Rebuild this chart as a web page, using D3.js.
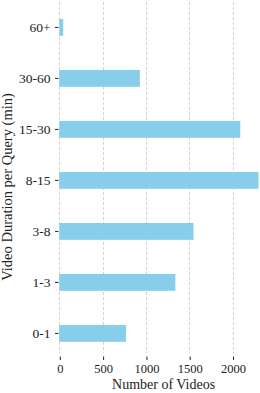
<!DOCTYPE html>
<html>
<head>
<meta charset="utf-8">
<script src="https://cdn.jsdelivr.net/npm/d3@7"></script>
<style>
  body { margin: 0; background: #fff; }
  svg text { font-family: "Liberation Serif", "DejaVu Serif", serif; fill: #222; }
</style>
</head>
<body>
<div class="chart"></div>
<script>
const WIDTH = 260;
const HEIGHT = 393;
const SERIF = "Liberation Serif, DejaVu Serif, serif";

// data, top to bottom as drawn
var categories = ["60+", "30-60", "15-30", "8-15", "3-8", "1-3", "0-1"];
var counts = [45, 930, 2090, 2300, 1550, 1340, 770];
var xTicks = [0, 500, 1000, 1500, 2000];

var translate = function (x, y) {
    return "translate(" + x + "," + y + ")";
};

var drawChart = function () {
    var svg = d3.select(".chart").append("svg")
        .attr("width", WIDTH)
        .attr("height", HEIGHT);

    var xScale = d3.scaleLinear()
        .domain([0, 2300])
        .range([59.3, 258.5]);

    var yScale = d3.scaleBand()
        .domain(categories)
        .range([1.9, 358.9])
        .padding(0);

    var plotTop = 2, plotBottom = 353;

    // dashed vertical grid
    svg.append("g").selectAll("line")
        .data(xTicks)
        .enter()
        .append("line")
        .attr("x1", function (d) { return Math.round(xScale(d)) + 0.5; })
        .attr("x2", function (d) { return Math.round(xScale(d)) + 0.5; })
        .attr("y1", plotTop)
        .attr("y2", plotBottom)
        .attr("stroke", "#c8c8c8")
        .attr("stroke-width", 0.8)
        .attr("stroke-dasharray", "3,2");

    // bars
    var barH = yScale.bandwidth() * 0.33;
    svg.append("g").selectAll("rect")
        .data(counts)
        .enter()
        .append("rect")
        .attr("x", xScale(0))
        .attr("y", function (d, i) {
            return yScale(categories[i]) + yScale.bandwidth() / 2 - barH / 2;
        })
        .attr("width", function (d) { return xScale(d) - xScale(0); })
        .attr("height", barH)
        .attr("fill", "#87ceeb");

    // x axis (offset, no spine)
    var xAxis = d3.axisBottom(xScale)
        .tickValues(xTicks)
        .tickFormat(d3.format("d"))
        .tickSize(3.5)
        .tickPadding(4.5);
    var gx = svg.append("g")
        .attr("transform", translate(0.5, 356.5))
        .call(xAxis)
        .attr("font-family", SERIF)
        .attr("font-size", 12.5);
    gx.select(".domain").remove();
    gx.selectAll("line").attr("stroke", "#222");
    gx.selectAll("text").attr("fill", "#222");

    // y axis
    var yAxis = d3.axisLeft(yScale)
        .tickSize(3.5)
        .tickPadding(4.5);
    var gy = svg.append("g")
        .attr("transform", translate(58.5, 0))
        .call(yAxis)
        .attr("font-family", SERIF)
        .attr("font-size", 13.5);
    gy.select(".domain").remove();
    gy.selectAll("line").attr("stroke", "#222");
    gy.selectAll("text").attr("fill", "#222");

    svg.append("text")
        .attr("x", 163.6)
        .attr("y", 389)
        .attr("text-anchor", "middle")
        .style("font-size", "14px")
        .text("Number of Videos");

    svg.append("text")
        .attr("transform", translate(11.5, 187) + " rotate(-90)")
        .attr("text-anchor", "middle")
        .style("font-size", "14.5px")
        .text("Video Duration per Query (min)");
};

window.onload = drawChart;
</script>
</body>
</html>
